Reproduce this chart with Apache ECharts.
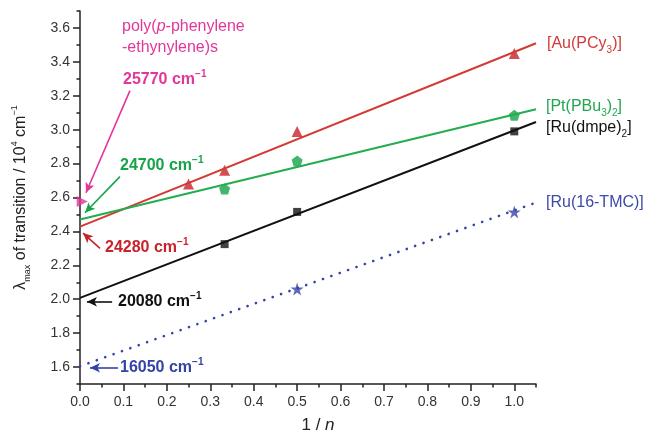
<!DOCTYPE html>
<html>
<head>
<meta charset="utf-8" />
<title></title>
<script type="text/javascript" src="https://cdn.jsdelivr.net/npm/echarts@6/dist/echarts.min.js"></script>
<style type="text/css">
  html, body { margin: 0; padding: 0; background: #fff; }
  #main { width: 652px; height: 433px; }
</style>
</head>
<body>
<div id="main"></div>
<script type="text/javascript">
// 1/n values and transition energies (10^4 cm^-1)
var auX = [0.25, 0.333, 0.5, 1.0];
var auY = [2.68, 2.76, 2.99, 3.45];
var ptX = [0.333, 0.5, 1.0];
var ptY = [2.65, 2.815, 3.085];
var ruX = [0.333, 0.5, 1.0];
var ruY = [2.325, 2.515, 2.99];
var tmcX = [0.5, 1.0];
var tmcY = [2.06, 2.515];
var ppeX = [0.005];
var ppeY = [2.577];

// fitted lines, read at 1/n = 0 and 1.05
var fitX = [0, 1.05];
var auFit = [2.428, 3.51];
var ptFit = [2.47, 3.12];
var ruFit = [2.008, 3.045];
var tmcFit = [1.605, 2.57];

var xTicks = [0, 0.1, 0.2, 0.3, 0.4, 0.5, 0.6, 0.7, 0.8, 0.9, 1.0];
var yTicks = [1.6, 1.8, 2.0, 2.2, 2.4, 2.6, 2.8, 3.0, 3.2, 3.4, 3.6];

// annotation arrows: [from, to] in axis units
var ppeArrow = [[0.115, 3.23], [0.0138, 2.628]];
var ptArrow = [[0.092, 2.723], [0.0115, 2.51]];
var auArrow = [[0.046, 2.30], [0.007, 2.39]];
var ruArrow = [[0.074, 1.985], [0.016, 1.985]];
var tmcArrow = [[0.0876, 1.596], [0.023, 1.596]];

var RED = '#c8232b', GREEN = '#17a34a', BLUE = '#3443a6', PINK = '#e2369a';
var FONT = 'Liberation Sans, Arial, sans-serif';

function pairs(xs, ys) {
  var out = [];
  for (var i = 0; i < xs.length; i++) out.push([xs[i], ys[i]]);
  return out;
}
function arrowLine(a, color) {
  return {
    silent: true,
    animation: false,
    symbol: ['none', 'arrow'],
    symbolSize: [7, 10],
    label: { show: false },
    lineStyle: { color: color, width: 1.6, type: 'solid' },
    data: [[{ coord: a[0] }, { coord: a[1] }]]
  };
}

var pentagon = 'path://M0,-1 L0.951,-0.309 L0.588,0.809 L-0.588,0.809 L-0.951,-0.309 Z';
var star = 'path://M0,-1 L0.2245,-0.309 L0.951,-0.309 L0.363,0.118 L0.588,0.809 L0,0.382 L-0.588,0.809 L-0.363,0.118 L-0.951,-0.309 L-0.2245,-0.309 Z';

var supRich = {
  n: { fontSize: 16, lineHeight: 22, fontFamily: FONT },
  b: { fontSize: 16, fontWeight: 'bold', lineHeight: 22, fontFamily: FONT },
  sup: { fontSize: 10, fontWeight: 'bold', verticalAlign: 'top', fontFamily: FONT },
  sub: { fontSize: 10, verticalAlign: 'bottom', fontFamily: FONT },
  it: { fontSize: 16, fontStyle: 'italic', lineHeight: 22, fontFamily: FONT }
};

function label(x, y, text, color) {
  return {
    type: 'text', x: x, y: y, silent: true,
    style: {
      text: text, fill: color, font: '16px ' + FONT,
      textVerticalAlign: 'middle', rich: supRich
    }
  };
}

var gridBox = { left: 80, right: 116, top: 11, bottom: 49, outerBoundsMode: 'none' };
var tickLine = { color: '#222', width: 1.5 };

var myChart = echarts.init(document.getElementById('main'));
var option = {
  animation: false,
  // second grid only carries the short minor ticks
  grid: [gridBox, gridBox],
  xAxis: [{
    type: 'value', gridIndex: 0, min: 0, max: 1.05, interval: 0.1,
    name: '{n|1 / }{it|n}', nameLocation: 'middle', nameGap: 33,
    nameTextStyle: { padding: [0, 0, 0, 20], rich: {
      n: { fontSize: 17, color: '#222', fontFamily: FONT },
      it: { fontSize: 17, color: '#222', fontStyle: 'italic', fontFamily: FONT }
    } },
    axisLine: { lineStyle: { color: '#222', width: 1.5 } },
    axisTick: { length: 7, customValues: xTicks, lineStyle: tickLine },
    axisLabel: { customValues: xTicks, margin: 11, color: '#333', fontSize: 14, fontFamily: FONT,
      formatter: function (v) { return v.toFixed(1); } },
    splitLine: { show: false }
  }, {
    type: 'value', gridIndex: 1, min: 0, max: 1.05, interval: 0.05,
    axisLine: { show: false },
    axisTick: { length: 3.5, lineStyle: tickLine },
    axisLabel: { show: false },
    splitLine: { show: false }
  }],
  yAxis: [{
    type: 'value', gridIndex: 0, min: 1.5, max: 3.7, interval: 0.1,
    name: '{l|λ}{s|max}{n| of transition / 10}{p|4}{n| cm}{p|−1}',
    nameLocation: 'middle', nameRotate: 90, nameGap: 48,
    nameTextStyle: { rich: {
      l: { fontSize: 16, color: '#222', lineHeight: 22, fontFamily: FONT },
      n: { fontSize: 16, color: '#222', lineHeight: 22, fontFamily: FONT },
      s: { fontSize: 9, color: '#222', verticalAlign: 'bottom', fontFamily: FONT },
      p: { fontSize: 9, color: '#222', verticalAlign: 'top', fontFamily: FONT }
    } },
    axisLine: { lineStyle: { color: '#222', width: 1.5 } },
    axisTick: { length: 7, customValues: yTicks, lineStyle: tickLine },
    axisLabel: { customValues: yTicks, margin: 10, color: '#333', fontSize: 14, fontFamily: FONT,
      formatter: function (v) { return v.toFixed(1); } },
    splitLine: { show: false }
  }, {
    type: 'value', gridIndex: 1, min: 1.5, max: 3.7, interval: 0.1,
    axisLine: { show: false },
    axisTick: { length: 3.5, lineStyle: tickLine },
    axisLabel: { show: false },
    splitLine: { show: false }
  }],
  series: [
    { type: 'line', data: pairs(fitX, auFit), symbol: 'none', lineStyle: { color: '#d23a33', width: 2 }, markLine: arrowLine(auArrow, RED) },
    { type: 'line', data: pairs(fitX, ptFit), symbol: 'none', lineStyle: { color: '#22ad4f', width: 2 }, markLine: arrowLine(ptArrow, GREEN) },
    { type: 'line', data: pairs(fitX, ruFit), symbol: 'none', lineStyle: { color: '#111', width: 2 }, markLine: arrowLine(ruArrow, '#111') },
    { type: 'line', data: pairs(fitX, tmcFit), symbol: 'none', lineStyle: { color: BLUE, width: 2.6, type: [0.1, 8.8], cap: 'round' }, markLine: arrowLine(tmcArrow, BLUE) },
    { type: 'scatter', data: pairs(auX, auY), symbol: 'triangle', symbolSize: 11, itemStyle: { color: RED } },
    { type: 'scatter', data: pairs(ptX, ptY), symbol: pentagon, symbolSize: 11, itemStyle: { color: GREEN } },
    { type: 'scatter', data: pairs(ruX, ruY), symbol: 'rect', symbolSize: 8, itemStyle: { color: '#111' } },
    { type: 'scatter', data: pairs(tmcX, tmcY), symbol: star, symbolSize: 13, itemStyle: { color: BLUE } },
    { type: 'scatter', data: pairs(ppeX, ppeY), symbol: 'triangle', symbolRotate: -90, symbolSize: 11, itemStyle: { color: PINK }, markLine: arrowLine(ppeArrow, PINK) }
  ],
  graphic: [
    label(122, 27, '{n|poly(}{it|p}{n|-phenylene}', PINK),
    label(122, 48, '{n|-ethynylene)s}', PINK),
    label(123, 80, '{b|25770 cm}{sup|−1}', PINK),
    label(120, 166, '{b|24700 cm}{sup|−1}', GREEN),
    label(105, 248, '{b|24280 cm}{sup|−1}', RED),
    label(118, 302, '{b|20080 cm}{sup|−1}', '#111'),
    label(120, 368, '{b|16050 cm}{sup|−1}', BLUE),
    label(547, 44, '{n|[Au(PCy}{sub|3}{n|)]}', '#d03a3a'),
    label(546, 107, '{n|[Pt(PBu}{sub|3}{n|)}{sub|2}{n|]}', '#22a650'),
    label(546, 128, '{n|[Ru(dmpe)}{sub|2}{n|]}', '#111'),
    label(546, 203, '{n|[Ru(16-TMC)]}', '#3d4aa6')
  ]
};
if (option && typeof option === 'object') {
  myChart.setOption(option, true);
}
</script>
</body>
</html>
